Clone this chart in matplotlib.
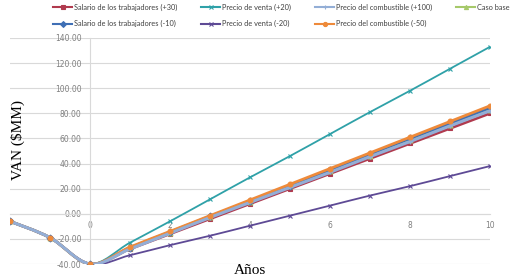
import numpy as np
import matplotlib.pyplot as plt
from matplotlib.path import Path
from matplotlib.patches import PathPatch
from matplotlib.lines import Line2D

# años del flujo
anos = [-2, -1, 0, 1, 2, 3, 4, 5, 6, 7, 8, 9, 10]

# VAN ($MM) por escenario
salario_mas30 = [-6, -19, -40, -28, -16, -4, 8, 20, 32, 44, 56, 68, 80]
precio_venta_mas20 = [-6, -19, -40, -23, -6, 11.5, 29, 46, 63.5, 81, 98, 115.5, 133]
combustible_mas100 = [-6, -19, -40, -28, -15.5, -3, 9, 21, 33, 45.5, 57.5, 70, 82]
caso_base = [-6, -19, -40, -27.5, -15, -2.5, 9.5, 22, 34, 46, 58.5, 70.5, 83]
salario_menos10 = [-6, -19, -40, -27, -14.5, -2, 10, 22.5, 35, 47.5, 60, 72, 84.5]
precio_venta_menos20 = [-6, -19, -40, -33, -25, -17.5, -9.5, -1.5, 6.5, 14.5, 22, 30, 38]
combustible_menos50 = [-6, -19, -40, -26.5, -14, -1.5, 11, 23.5, 36, 48.5, 61, 73.5, 86]

etiquetas = ["Salario de los trabajadores (+30)", "Precio de venta (+20)",
             "Precio del combustible (+100)", "Caso base",
             "Salario de los trabajadores (-10)", "Precio de venta (-20)",
             "Precio del combustible (-50)"]
series = [salario_mas30, precio_venta_mas20, combustible_mas100, caso_base,
          salario_menos10, precio_venta_menos20, combustible_menos50]
colores = ["#B03A4E", "#2FA1A8", "#93AED6", "#A6C96A", "#3F6FB5", "#5E4A95", "#EE8A3A"]
marcadores = ["s", "x", "+", "^", "D", "x", "o"]
grosores = [2.0, 1.3, 2.2, 2.0, 2.0, 1.3, 2.0]
orden_z = [3, 4, 9, 5, 6, 7, 8]
orden_z_marcas = [3.5, 4.5, 9.5, 5.5, 6.5, 7.5, 10.5]


def curva_suave(x, y):
    # linea suavizada tipo Excel (bezier de Catmull-Rom)
    p = np.column_stack([x, y]).astype(float)
    verts = [p[0]]
    codes = [Path.MOVETO]
    n = len(p)
    for i in range(n - 1):
        p0 = p[i - 1] if i > 0 else p[i]
        p3 = p[i + 2] if i + 2 < n else p[i + 1]
        c1 = p[i] + (p[i + 1] - p0) / 6.0
        c2 = p[i + 1] - (p3 - p[i]) / 6.0
        verts += [c1, c2, p[i + 1]]
        codes += [Path.CURVE4] * 3
    return Path(verts, codes)


fig = plt.figure(figsize=(5.15, 2.78), dpi=100)
ax = fig.add_axes([10 / 515, 1 - 264 / 278, 480 / 515, 226 / 278])
ax.set_xlim(-2, 10)
ax.set_ylim(-40, 140)

for vals, col, mk, lw, z, zm in zip(series, colores, marcadores, grosores, orden_z, orden_z_marcas):
    ax.add_patch(PathPatch(curva_suave(anos, vals), facecolor="none", edgecolor=col,
                           lw=lw, zorder=z, capstyle="round", joinstyle="round"))
    ax.plot(anos, vals, linestyle="none", marker=mk, color=col, markersize=3.5,
            markeredgewidth=0.8, zorder=zm)

# ejes cruzando en cero
for lado in ["top", "right"]:
    ax.spines[lado].set_visible(False)
ax.spines["left"].set_position(("data", 0))
ax.spines["bottom"].set_position(("data", 0))
ax.spines["left"].set_color("#D9D9D9")
ax.spines["bottom"].set_color("#D9D9D9")
ax.spines["left"].set_linewidth(0.8)
ax.spines["bottom"].set_linewidth(0.8)

ax.set_yticks(np.arange(-40, 141, 20))
ax.set_yticklabels([f"{v:.2f}" for v in np.arange(-40, 141, 20)])
ax.set_xticks([0, 2, 4, 6, 8, 10])
ax.tick_params(axis="both", length=0, labelsize=5.5, labelcolor="#7F7F7F")
ax.tick_params(axis="y", pad=6)
ax.tick_params(axis="x", pad=5)
ax.grid(axis="y", color="#D9D9D9", lw=0.8)
ax.set_axisbelow(True)

fig.text(18 / 515, 1 - 140 / 278, "VAN ($MM)", rotation=90, ha="center", va="center",
         family="Liberation Serif", fontsize=11)
fig.text(250 / 515, 1 - 270 / 278, "Años", ha="center", va="center",
         family="Liberation Serif", fontsize=11)

# leyenda en dos filas (orden por columnas de matplotlib)
manejadores = [Line2D([], [], color=c, marker=m, lw=1.5, markersize=3, markeredgewidth=0.8)
               for c, m in zip(colores, marcadores)]
orden = [0, 4, 1, 5, 2, 6, 3]
fig.legend([manejadores[i] for i in orden], [etiquetas[i] for i in orden],
           loc="upper left", bbox_to_anchor=(50 / 515, 0.998), ncol=4, frameon=False,
           prop={"family": "Lato", "size": 5.3}, labelcolor="#404040",
           handlelength=2.6, handletextpad=0.2, columnspacing=3.3, labelspacing=1.3,
           borderaxespad=0)

fig.savefig("out.png", dpi=100)
